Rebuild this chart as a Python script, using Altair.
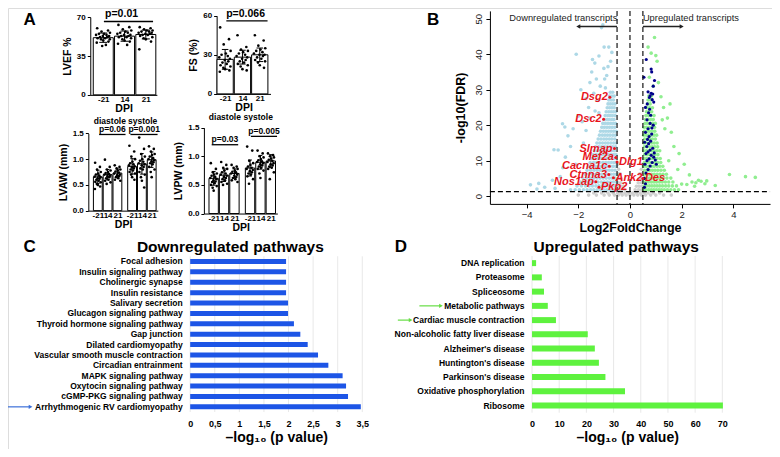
import altair as alt
import pandas as pd

FONT = "Liberation Sans"
PANEL_LETTERS = ["A", "B", "C", "D"]
W, H = 764, 441                    # drawing size that fits the window with its 8px margins
SX, SY = W / 780.0, H / 457.0      # reference-pixel -> drawing-pixel


def cx(x):
    return x * SX


def cy(y):
    return y * SY


# ---------------- Panel A data ----------------
DPI3 = ["-21", "14", "21"]
DPI6 = ["-21", "14", "21", "-21", "14", "21"]
POS3 = [0, 1, 2]
POS6 = [0, 1, 2, 3.5, 4.5, 5.5]
JIT = [-0.28, 0.22, -0.08, 0.31, 0.04, -0.2, 0.15, -0.33, 0.27, -0.02, 0.18,
       -0.15, 0.09, -0.26, 0.3, -0.1, 0.0, 0.24, -0.3, 0.12, -0.05]

LVEF_MEAN = [51.5, 52.9, 54.4]
LVEF_SD = [4.2, 4.6, 4.0]
LVEF_DOTS = [
    [60, 58, 57, 56, 55, 55, 54, 54, 53, 53, 52, 52, 51, 51, 50, 50, 49, 48, 47, 45, 44],
    [63, 61, 59, 58, 57, 56, 56, 55, 54, 54, 53, 53, 52, 52, 51, 50, 49, 48, 46, 45],
    [61, 60, 59, 58, 58, 57, 57, 56, 56, 55, 55, 54, 54, 53, 52, 51, 50, 48, 41],
]
FS_MEAN = [26.5, 28.2, 30.0]
FS_SD = [7.6, 5.3, 5.2]
FS_DOTS = [
    [51, 42, 38, 33, 31, 30, 29, 28, 27, 26, 25, 24, 23, 22, 21, 20, 19, 18, 17],
    [45, 36, 34, 33, 32, 31, 30, 29, 28, 27, 26, 25, 24, 23, 22, 21, 19, 18],
    [45, 41, 37, 35, 34, 33, 32, 31, 30, 30, 29, 28, 27, 26, 25, 24, 22, 20],
]
LVAW_MEAN = [0.656, 0.70, 0.73, 0.86, 0.91, 0.99]
LVAW_SD = [0.13, 0.10, 0.08, 0.15, 0.20, 0.15]
LVAW_DOTS = [
    [0.93, 0.85, 0.8, 0.75, 0.72, 0.7, 0.68, 0.66, 0.65, 0.63, 0.62, 0.6, 0.58, 0.56, 0.55, 0.52, 0.5, 0.47, 0.42],
    [0.99, 0.85, 0.8, 0.78, 0.75, 0.73, 0.71, 0.7, 0.68, 0.67, 0.65, 0.63, 0.6, 0.58, 0.55, 0.52],
    [0.88, 0.85, 0.82, 0.8, 0.78, 0.76, 0.74, 0.72, 0.7, 0.69, 0.67, 0.65, 0.63, 0.6, 0.58],
    [1.26, 1.15, 1.05, 1.0, 0.95, 0.92, 0.9, 0.88, 0.86, 0.84, 0.82, 0.8, 0.78, 0.75, 0.72, 0.7, 0.65, 0.6],
    [1.42, 1.2, 1.1, 1.05, 1.0, 0.97, 0.95, 0.92, 0.9, 0.88, 0.85, 0.82, 0.8, 0.75, 0.7, 0.65, 0.58, 0.45],
    [1.25, 1.2, 1.15, 1.1, 1.08, 1.05, 1.02, 1.0, 0.98, 0.96, 0.94, 0.92, 0.9, 0.85, 0.8, 0.75, 0.65],
]
LVPW_MEAN = [0.615, 0.67, 0.70, 0.795, 0.895, 0.918]
LVPW_SD = [0.12, 0.11, 0.08, 0.14, 0.12, 0.11]
LVPW_DOTS = [
    [0.88, 0.78, 0.72, 0.7, 0.68, 0.66, 0.64, 0.62, 0.6, 0.58, 0.56, 0.55, 0.53, 0.5, 0.48, 0.45, 0.4],
    [0.9, 0.85, 0.8, 0.78, 0.75, 0.72, 0.7, 0.68, 0.66, 0.64, 0.62, 0.6, 0.58, 0.55, 0.52, 0.5],
    [0.85, 0.82, 0.8, 0.78, 0.75, 0.73, 0.72, 0.7, 0.68, 0.66, 0.64, 0.62, 0.6, 0.58, 0.55],
    [1.17, 1.1, 0.92, 0.88, 0.85, 0.82, 0.8, 0.78, 0.76, 0.74, 0.72, 0.7, 0.68, 0.65, 0.6, 0.52],
    [1.1, 1.05, 1.0, 0.98, 0.95, 0.93, 0.91, 0.9, 0.88, 0.86, 0.84, 0.82, 0.8, 0.78, 0.75, 0.7, 0.62],
    [1.05, 1.02, 1.0, 0.98, 0.96, 0.94, 0.92, 0.9, 0.88, 0.86, 0.84, 0.82, 0.8, 0.78, 0.72, 0.6],
]

# ---------------- Panel B data ----------------
LB_ROWS = {
    1.8: [-2.3, -2.12, -1.96, -1.8, -1.66, -1.52, -1.4, -1.27, -1.14, -1.02, -0.9, -0.78, -0.66, -0.55],
    2.9: [-2.05, -1.88, -1.72, -1.58, -1.45, -1.32, -1.2, -1.07, -0.95, -0.83, -0.71, -0.6],
    4.0: [-1.92, -1.76, -1.62, -1.49, -1.36, -1.24, -1.11, -0.99, -0.87, -0.75, -0.64, -0.54],
    5.1: [-1.82, -1.67, -1.53, -1.4, -1.28, -1.16, -1.04, -0.92, -0.8, -0.69, -0.58],
    6.2: [-1.74, -1.59, -1.46, -1.33, -1.21, -1.09, -0.97, -0.86, -0.74, -0.63, -0.53],
    7.3: [-1.66, -1.52, -1.39, -1.27, -1.15, -1.03, -0.91, -0.8, -0.69, -0.58],
    8.4: [-1.6, -1.46, -1.34, -1.22, -1.1, -0.98, -0.87, -0.76, -0.65, -0.55],
    9.5: [-1.54, -1.41, -1.29, -1.17, -1.05, -0.94, -0.83, -0.72, -0.61, -0.52],
    10.6: [-1.48, -1.36, -1.24, -1.12, -1.01, -0.9, -0.79, -0.68, -0.57],
    11.7: [-1.43, -1.31, -1.19, -1.08, -0.97, -0.86, -0.75, -0.64, -0.54],
    12.8: [-1.38, -1.26, -1.15, -1.04, -0.93, -0.82, -0.71, -0.6],
    13.9: [-1.33, -1.21, -1.1, -0.99, -0.88, -0.77, -0.67, -0.56],
    15.0: [-1.28, -1.17, -1.06, -0.95, -0.85, -0.74, -0.63, -0.53],
    16.1: [-1.23, -1.12, -1.01, -0.91, -0.8, -0.7, -0.59],
    17.2: [-1.18, -1.07, -0.97, -0.87, -0.77, -0.66, -0.56],
    18.3: [-1.14, -1.03, -0.93, -0.83, -0.73, -0.63, -0.53],
    19.4: [-1.09, -0.99, -0.89, -0.79, -0.69, -0.59],
    20.5: [-1.05, -0.95, -0.85, -0.75, -0.65, -0.56],
    21.6: [-1.0, -0.9, -0.81, -0.71, -0.62],
    22.7: [-0.96, -0.86, -0.77, -0.68, -0.58],
    23.8: [-0.92, -0.82, -0.73, -0.64, -0.55],
    24.9: [-0.88, -0.79, -0.7, -0.61],
    26.0: [-0.85, -0.76, -0.67, -0.58],
    27.1: [-0.82, -0.73, -0.64],
    28.2: [-0.79, -0.7, -0.61],
    29.3: [-0.76, -0.67],
}
LB_OUT_X = [-1.1, -1.05, -1.0, -2.08, -1.45, -1.36, -1.2, -1.01, -0.85, -0.9, -1.3, -1.55, -1.15,
            -0.95, -1.4, -1.7, -1.25, -1.6, -0.98, -0.75, -0.7, -0.82, -1.48, -1.9, -2.61, -2.52,
            -2.2, -2.4, -2.0, -1.85, -2.94, -2.78, -2.5, -2.3, -3.85, -3.53, -3.3, -3.0, -2.7,
            -3.6, -2.9, -2.6, -2.1, -1.8, -1.7, -1.55, -1.35, -1.2]
LB_OUT_Y = [47.5, 48.3, 42, 40, 38.5, 37.5, 39.5, 36, 36.5, 34, 33, 32, 31, 30.5, 29, 27.5, 27,
            25, 33, 38, 40.5, 42, 35, 30, 20.4, 19.5, 19, 17, 22.5, 21, 13.1, 13, 11, 14, 3.2,
            3.6, 2.5, 4.5, 5.5, 2, 2.2, 8, 9, 15, 18.5, 22, 24, 23.5]
GR_ROWS = {
    1.8: [0.52, 0.62, 0.72, 0.82, 0.92, 1.02, 1.12, 1.22, 1.33, 1.45, 1.58, 1.72, 1.88],
    2.9: [0.55, 0.65, 0.75, 0.85, 0.95, 1.05, 1.15, 1.26, 1.38, 1.5, 1.64, 1.8],
    4.0: [0.53, 0.63, 0.73, 0.83, 0.93, 1.03, 1.14, 1.25, 1.37, 1.5, 1.66],
    5.1: [0.56, 0.66, 0.76, 0.86, 0.96, 1.07, 1.18, 1.3, 1.43, 1.58],
    6.2: [0.54, 0.64, 0.74, 0.84, 0.94, 1.05, 1.16, 1.28, 1.41],
    7.3: [0.57, 0.67, 0.77, 0.87, 0.97, 1.08, 1.2, 1.33],
    8.4: [0.53, 0.63, 0.73, 0.83, 0.93, 1.04, 1.15, 1.27],
    9.5: [0.56, 0.66, 0.76, 0.86, 0.96, 1.07, 1.19],
    10.6: [0.54, 0.64, 0.74, 0.84, 0.94, 1.05, 1.17],
    11.7: [0.57, 0.67, 0.77, 0.87, 0.97, 1.08],
    12.8: [0.53, 0.63, 0.73, 0.83, 0.93, 1.04, 1.15],
    13.9: [0.56, 0.66, 0.76, 0.86, 0.96, 1.07],
    15.0: [0.54, 0.64, 0.74, 0.84, 0.94, 1.05],
    16.1: [0.57, 0.67, 0.77, 0.87, 0.98],
    17.2: [0.53, 0.63, 0.73, 0.83, 0.93, 1.03],
    18.3: [0.56, 0.66, 0.76, 0.86, 0.96],
    19.4: [0.54, 0.64, 0.74, 0.84, 0.95],
    20.5: [0.58, 0.68, 0.78, 0.88, 0.98],
    21.6: [0.6, 0.7, 0.8, 0.9],
    22.7: [0.62, 0.72, 0.82, 0.93],
    23.8: [0.64, 0.74, 0.84],
    24.9: [0.66, 0.76, 0.87],
    26.0: [0.68, 0.78],
    27.1: [0.7, 0.8],
    28.2: [0.73, 0.83],
}
GR_OUT_X = [0.95, 0.82, 1.0, 1.05, 0.75, 1.1, 0.9, 1.2, 1.3, 1.45, 1.6, 1.7, 1.9, 2.1, 1.85, 2.3,
            2.0, 2.2, 2.4, 2.55, 2.65, 2.75, 2.9, 2.97, 2.5, 3.85, 4.47, 4.85, 3.3, 1.55, 0.7,
            1.35, 1.25, 1.5]
GR_OUT_Y = [44.7, 40.3, 39.6, 38, 33.5, 32, 31, 28, 25, 22, 18, 14, 12, 9, 7.5, 6, 3.4, 3.3,
            4, 3.8, 4.5, 4.2, 3.5, 4.3, 2.8, 6.1, 5.5, 5.3, 3, 26, 42, 19, 21.5, 10]
NAVY_X = [0.63, 0.82, 0.84, 0.54, 0.95, 0.9, 0.7, 0.82, 0.78, 0.88, 0.75, 0.86, 0.92, 0.6, 0.72,
          0.8, 0.66, 0.78, 0.9, 0.7, 0.6, 0.84, 0.74, 0.68, 0.8, 0.72, 0.65, 0.88, 0.78, 0.7,
          0.62, 0.82, 0.92, 0.74, 0.66, 0.86, 0.58, 0.78, 0.7, 0.62, 0.55, 0.6, 0.56, 0.94,
          0.98, 1.02, 0.76, 0.67, 0.85, 0.57]
NAVY_Y = [38.5, 35.8, 35, 33.5, 32.6, 31, 29.4, 29, 28.3, 28.8, 27.8, 27.2, 26.5, 25, 23.5,
          22.8, 21.5, 20.5, 20, 19, 18, 17.5, 16.8, 16, 15.5, 14.8, 14, 13.5, 13, 12.5, 12,
          11.5, 11, 10.5, 10, 9.5, 9, 8.5, 7.5, 6.5, 5, 3.5, 2.5, 12.2, 10.2, 9, 24.5, 26,
          19.2, 15.2]
GREY_ROWS = {
    0.3: [-2.0, -1.6, -1.3, -1.0, -0.8, -0.6, -0.45, -0.3, -0.15, 0.0, 0.15, 0.3, 0.45, 0.6, 0.8, 1.0, 1.3, 1.6],
    0.9: [-1.4, -1.1, -0.85, -0.65, -0.48, -0.35, -0.2, -0.05, 0.1, 0.25, 0.4, 0.55, 0.7, 0.9, 1.15],
    1.8: [-0.45, -0.33, -0.2, 0.2, 0.33, 0.45],
    2.8: [-0.47, -0.36, -0.25, 0.25, 0.36, 0.47],
    3.8: [-0.46, -0.35, 0.32, 0.44],
    5.0: [-0.45, -0.35, 0.35, 0.45],
    6.3: [-0.46, -0.38, 0.38, 0.46],
    7.6: [-0.44, 0.44],
    9.0: [-0.47, 0.47],
}
GENES = ["Dsg2", "Dsc2", "Slmap", "Mef2a", "Dlg1", "Cacna1c", "Ctnna3", "Ank2", "Des", "Nos1ap", "Pkp2"]
GENE_X = [-0.78, -1.02, -0.6, -0.55, -0.5, -0.8, -0.82, -0.64, 0.5, -1.32, -1.2]
GENE_Y = [27.9, 21.7, 13.4, 10.9, 9.6, 8.4, 6.1, 5.2, 5.0, 4.1, 2.5]
GENE_SIDE = ["r", "r", "r", "r", "l", "r", "r", "l", "l", "r", "l"]
V_LINES = [-0.5, 0.0, 0.5]
H_LINE = [1.3]
DIR_TEXT = ["Downregulated transcripts", "Upregulated transcripts"]

# ---------------- Panels C and D data ----------------
C_PATHS = ["Focal adhesion", "Insulin signaling pathway", "Cholinergic synapse", "Insulin resistance",
           "Salivary secretion", "Glucagon signaling pathway", "Thyroid hormone signaling pathway",
           "Gap junction", "Dilated cardiomyopathy", "Vascular smooth muscle contraction",
           "Circadian entrainment", "MAPK signaling pathway", "Oxytocin signaling pathway",
           "cGMP-PKG signaling pathway", "Arrhythmogenic RV cardiomyopathy"]
C_VALUES = [1.95, 1.95, 1.95, 1.95, 1.99, 1.99, 2.11, 2.24, 2.39, 2.6, 2.81, 3.1, 3.17, 3.21, 3.47]
C_TICKS = [0, 0.5, 1, 1.5, 2, 2.5, 3, 3.5]
D_PATHS = ["DNA replication", "Proteasome", "Spliceosome", "Metabolic pathways",
           "Cardiac muscle contraction", "Non-alcoholic fatty liver disease", "Alzheimer's disease",
           "Huntington's disease", "Parkinson's disease", "Oxidative phosphorylation", "Ribosome"]
D_VALUES = [1.5, 3.6, 4.4, 5.8, 8.8, 20.5, 23.1, 24.6, 27.0, 34.2, 70.2]
D_TICKS = [0, 10, 20, 30, 40, 50, 60, 70]
C_TITLE = "Downregulated pathways"
D_TITLE = "Upregulated pathways"
XTITLE_CD = "\u2013log\u2081\u2080 (p value)"


def text_layer(txt, rx, ry, size, weight="bold", align="center", color="black"):
    # rx, ry: position in reference pixels
    return alt.Chart(pd.DataFrame({"t": [txt]})).mark_text(
        font=FONT, fontSize=size, fontWeight=weight, align=align, baseline="middle", color=color
    ).encode(x=alt.value(cx(rx)), y=alt.value(cy(ry)), text="t:N")


def bar_panel(means, sds, dots, pos, ticklabels, ytitle, ydom, yvals, yfmt, box, xdom, half,
              notes, lines, extra=None):
    x0, x1, y0, y1 = cx(box[0]), cx(box[1]), cy(box[2]), cy(box[3])
    bdf = pd.DataFrame({"pos": pos, "mean": means, "sd": sds})
    bdf["x0"] = bdf["pos"] - half
    bdf["x1"] = bdf["pos"] + half
    bdf["base"] = 0.0
    bdf["lo"] = bdf["mean"] - bdf["sd"]
    bdf["hi"] = bdf["mean"] + bdf["sd"]
    bdf["c0"] = bdf["pos"] - half * 0.4
    bdf["c1"] = bdf["pos"] + half * 0.4
    rows = []
    for p, vals in zip(pos, dots):
        for i, v in enumerate(vals):
            rows.append({"pos": p + JIT[i % len(JIT)] * (half / 0.46), "val": v})
    ddf = pd.DataFrame(rows)
    xs = alt.Scale(domain=xdom, range=[x0, x1], nice=False, zero=False)
    ys = alt.Scale(domain=ydom, range=[y1, y0], nice=False, zero=False)
    expr = ("[" + ",".join("'%s'" % t for t in ticklabels) + "][indexof(["
            + ",".join(str(p) for p in pos) + "], datum.value)]")
    xax = alt.Axis(orient="bottom", offset=-(H - y1), values=pos, labelExpr=expr, title="DPI",
                   labelFont=FONT, labelFontSize=8, labelFontWeight="bold", titleFont=FONT,
                   titleFontSize=10.5, titleFontWeight="bold", ticks=False, domainColor="black",
                   labelColor="black", titleColor="black", labelPadding=1, titlePadding=0,
                   grid=False, labelOverlap=False, labelFlush=False)
    yax = alt.Axis(orient="left", offset=-x0, values=yvals, format=yfmt, title=ytitle,
                   labelFont=FONT, labelFontSize=8, labelFontWeight="bold", titleFont=FONT,
                   titleFontSize=10.5, titleFontWeight="bold", tickSize=3, tickColor="black",
                   domainColor="black", labelColor="black", titleColor="black", grid=False,
                   labelOverlap=False, labelFlush=False, labelPadding=2, titlePadding=4)
    X = lambda f: alt.X(f, scale=xs, axis=xax)
    Y = lambda f: alt.Y(f, scale=ys, axis=yax)
    bars = alt.Chart(bdf).mark_rect(fill="white", stroke="black", strokeWidth=1).encode(
        x=X("x0:Q"), x2="x1", y=Y("mean:Q"), y2="base")
    err = alt.Chart(bdf).mark_rule(color="black", strokeWidth=1).encode(x=X("pos:Q"), y=Y("lo:Q"), y2="hi")
    cap_hi = alt.Chart(bdf).mark_rule(color="black", strokeWidth=1).encode(x=X("c0:Q"), x2="c1", y=Y("hi:Q"))
    cap_lo = alt.Chart(bdf).mark_rule(color="black", strokeWidth=1).encode(x=X("c0:Q"), x2="c1", y=Y("lo:Q"))
    pts = alt.Chart(ddf).mark_circle(color="black", size=7, opacity=1).encode(x=X("pos:Q"), y=Y("val:Q"))
    ndf = pd.DataFrame(notes, columns=["t", "x", "y", "s"])
    ntext = alt.Chart(ndf).mark_text(font=FONT, fontWeight="bold", baseline="middle", color="black").encode(
        x=X("x:Q"), y=Y("y:Q"), text="t:N", size=alt.Size("s:Q", scale=None, legend=None))
    ldf = pd.DataFrame(lines, columns=["x0", "x1", "y"])
    lrule = alt.Chart(ldf).mark_rule(color="black", strokeWidth=1.3).encode(x=X("x0:Q"), x2="x1", y=Y("y:Q"))
    layers = [bars, err, cap_hi, cap_lo, pts, lrule, ntext]
    if extra is not None:
        layers.append(extra)
    return alt.layer(*layers)


lvef = bar_panel(LVEF_MEAN, LVEF_SD, LVEF_DOTS, POS3, DPI3, "LVEF %", [0, 70], [0, 35, 70], "d",
                 (84, 152, 9.5, 90), [-0.61, 2.52], 0.47,
                 [["p=0.01", 0.86, 73.0, 10.5]], [[0.03, 2.34, 66.1]],
                 text_layer(PANEL_LETTERS[0], 22, 12, 17))
fs = bar_panel(FS_MEAN, FS_SD, FS_DOTS, POS3, DPI3, "FS (%)", [0, 60], [0, 30, 60], "d",
               (213, 268, 8, 89), [-0.49, 2.62], 0.47,
               [["p=0.066", 1.18, 61.5, 10.5]], [[0.07, 2.45, 56.1]])
lvaw = bar_panel(LVAW_MEAN, LVAW_SD, LVAW_DOTS, POS6, DPI6, "LVAW (mm)", [0, 1.5],
                 [0, 0.5, 1.0, 1.5], ".1f", (82, 153, 130, 210), [-0.97, 6.13], 0.45,
                 [["diastole", 1.23, 1.744, 8.5], ["systole", 4.58, 1.744, 8.5],
                  ["p=0.06", 1.48, 1.594, 8.5], ["p=0.001", 4.73, 1.594, 8.5]],
                 [[0.13, 2.83, 1.48], [3.33, 6.1, 1.48]])
lvpw = bar_panel(LVPW_MEAN, LVPW_SD, LVPW_DOTS, POS6, DPI6, "LVPW (mm)", [0, 1.5],
                 [0, 0.5, 1.0, 1.5], ".1f", (200, 275, 124, 213), [-0.94, 6.13], 0.45,
                 [["diastole", 1.08, 1.685, 8.5], ["systole", 4.29, 1.685, 8.5],
                  ["p=0.03", 1.08, 1.298, 8.5], ["p=0.005", 4.84, 1.449, 8.5]],
                 [[-0.19, 2.36, 1.202], [3.58, 6.1, 1.348]])

# ---------------- Panel B ----------------
BX0, BX1, BY0, BY1 = cx(492), cx(778), cy(3), cy(203)
VX = alt.Scale(domain=[-5.42, 5.42], range=[BX0, BX1], nice=False, zero=False)
VY = alt.Scale(domain=[-2.17, 52.2], range=[BY1, BY0], nice=False, zero=False)
vxax = alt.Axis(orient="bottom", offset=-(H - BY1), values=[-4, -2, 0, 2, 4], title="Log2FoldChange",
                labelFont=FONT, labelFontSize=9.5, labelColor="#222222", titleFont=FONT,
                titleFontSize=12.5, titleFontWeight="bold", titleColor="black", tickColor="black",
                domainColor="black", tickSize=4, grid=False, labelPadding=2, titlePadding=2,
                labelFlush=False)
vyax = alt.Axis(orient="left", offset=-BX0, values=[0, 10, 20, 30, 40, 50], title="-log10(FDR)",
                labelFont=FONT, labelFontSize=9.5, labelColor="#222222", labelAngle=270,
                labelAlign="center", labelBaseline="bottom", titleFont=FONT, titleFontSize=12.5,
                titleFontWeight="bold", titleColor="black", tickColor="black", domainColor="black",
                tickSize=4, grid=False, labelPadding=2, titlePadding=6, labelFlush=False)
VXe = lambda f: alt.X(f, scale=VX, axis=vxax)
VYe = lambda f: alt.Y(f, scale=VY, axis=vyax)


def rows_to_xy(rows):
    xs, ys = [], []
    for y, xl in rows.items():
        for x in xl:
            xs.append(x)
            ys.append(y)
    return xs, ys


def pts_layer(xs, ys, color, size):
    return alt.Chart(pd.DataFrame({"x": xs, "y": ys})).mark_circle(
        color=color, size=size, opacity=1).encode(x=VXe("x:Q"), y=VYe("y:Q"))


gx, gy = rows_to_xy(GREY_ROWS)
lbx, lby = rows_to_xy(LB_ROWS)
grx, gry = rows_to_xy(GR_ROWS)
grey_l = pts_layer(gx, gy, "#cfcfcf", 13)
lb_l = pts_layer(lbx + LB_OUT_X, lby + LB_OUT_Y, "#add8e6", 13)
gr_l = pts_layer(grx + GR_OUT_X, gry + GR_OUT_Y, "#90ee90", 13)
navy_l = pts_layer(NAVY_X, NAVY_Y, "#00008b", 10)
vlines = alt.Chart(pd.DataFrame({"x": V_LINES})).mark_rule(
    color="black", strokeDash=[5, 3], strokeWidth=1.1).encode(
    x=VXe("x:Q"), y=alt.value(BY0), y2=alt.value(BY1))
hline = alt.Chart(pd.DataFrame({"y": H_LINE})).mark_rule(
    color="black", strokeDash=[5, 3], strokeWidth=1.1).encode(
    y=VYe("y:Q"), x=alt.value(BX0), x2=alt.value(BX1))
arr_df = pd.DataFrame({"x0": [-0.5, 0.5], "x1": [-1.95, 1.95], "y": [47.8, 47.8]})
arr_rule = alt.Chart(arr_df).mark_rule(color="#222222", strokeWidth=1.3).encode(
    x=VXe("x0:Q"), x2="x1", y=VYe("y:Q"))
head_l = alt.Chart(pd.DataFrame({"x": [-2.0], "y": [47.8]})).mark_point(
    shape="triangle-left", filled=True, color="#222222", size=22, opacity=1).encode(x=VXe("x:Q"), y=VYe("y:Q"))
head_r = alt.Chart(pd.DataFrame({"x": [2.0], "y": [47.8]})).mark_point(
    shape="triangle-right", filled=True, color="#222222", size=22, opacity=1).encode(x=VXe("x:Q"), y=VYe("y:Q"))
dir_df = pd.DataFrame({"t": DIR_TEXT, "x": [-2.58, 2.36], "y": [50.3, 50.3]})
dir_text = alt.Chart(dir_df).mark_text(font=FONT, fontSize=9.3, color="#222222", baseline="middle").encode(
    x=VXe("x:Q"), y=VYe("y:Q"), text="t:N")
gdf = pd.DataFrame({"g": GENES, "x": GENE_X, "y": GENE_Y, "side": GENE_SIDE})
gene_pts = alt.Chart(gdf).mark_circle(color="#e8141c", size=9, opacity=1).encode(x=VXe("x:Q"), y=VYe("y:Q"))
gene_r = alt.Chart(gdf[gdf.side == "r"]).mark_text(
    font=FONT, fontSize=11, fontWeight="bold", fontStyle="italic", color="#e8141c",
    align="right", baseline="middle", dx=-2).encode(x=VXe("x:Q"), y=VYe("y:Q"), text="g:N")
gene_l = alt.Chart(gdf[gdf.side == "l"]).mark_text(
    font=FONT, fontSize=11, fontWeight="bold", fontStyle="italic", color="#e8141c",
    align="left", baseline="middle", dx=2).encode(x=VXe("x:Q"), y=VYe("y:Q"), text="g:N")
volcano = alt.layer(
    grey_l, lb_l, gr_l, navy_l, vlines, hline, arr_rule, head_l, head_r, dir_text,
    gene_pts, gene_r, gene_l, text_layer(PANEL_LETTERS[1], 434, 12, 17))


# ---------------- Panels C and D ----------------
def path_panel(paths, values, ticks, xfmt, color, xdom, box, pad_in, title, tpos, letter, lpos,
               arrows, arrow_color):
    x0, x1, y0, y1 = cx(box[0]), cx(box[1]), cy(box[2]), cy(box[3])
    df = pd.DataFrame({"p": paths, "v": values})
    ysc = alt.Scale(domain=paths, range=[y0, y1], paddingInner=pad_in, paddingOuter=pad_in / 2)
    xsc = alt.Scale(domain=xdom, range=[x0, x1], nice=False, zero=True)
    yax = alt.Axis(orient="left", offset=-x0, title=None, ticks=False, domain=False, labelFont=FONT,
                   labelFontSize=8.5, labelFontWeight="bold", labelColor="black", labelPadding=8,
                   labelLimit=400, grid=False)
    xax = alt.Axis(orient="bottom", offset=-(H - y1), values=ticks, format=xfmt,
                   labelExpr="replace(datum.label, '.', ',')", title=XTITLE_CD, grid=False,
                   domain=False, ticks=False, labelFont=FONT, labelFontSize=9, labelFontWeight="bold",
                   labelColor="black", labelPadding=7, titleFont=FONT, titleFontSize=14,
                   titleFontWeight="bold", titleColor="black", titlePadding=2, labelFlush=False)
    Xe = lambda f: alt.X(f, scale=xsc, axis=xax)
    Ye = lambda f: alt.Y(f, scale=ysc, axis=yax, sort=paths)
    grid = alt.Chart(pd.DataFrame({"v": ticks})).mark_rule(color="#e2e2e2", strokeWidth=0.8).encode(
        x=Xe("v:Q"), y=alt.value(y0), y2=alt.value(y1))
    bars = alt.Chart(df).mark_bar(color=color).encode(x=Xe("v:Q"), y=Ye("p:N"))
    layers = [grid, bars]
    for (pname, a0, a1) in arrows:
        adf = pd.DataFrame({"p": [pname]})
        layers.append(alt.Chart(adf).mark_rule(color=arrow_color, strokeWidth=1.2).encode(
            x=alt.value(cx(a0)), x2=alt.value(cx(a1)), y=Ye("p:N")))
        layers.append(alt.Chart(adf).mark_point(shape="triangle-right", filled=True, color=arrow_color,
                                                size=18, opacity=1).encode(
            x=alt.value(cx(a1) + 1), y=Ye("p:N")))
    layers.append(text_layer(title, tpos[0], tpos[1], 15.5))
    layers.append(text_layer(letter, lpos[0], lpos[1], 17))
    return alt.layer(*layers)


cchart = path_panel(C_PATHS, C_VALUES, C_TICKS, "~g", "#1d55e6", [0, 3.5], (186, 361.7, 257.3, 418.7),
                    0.52, C_TITLE, (227, 248), PANEL_LETTERS[2], (22, 248),
                    [("Arrhythmogenic RV cardiomyopathy", 0, 22)], "#3b6fd9")
dchart = path_panel(D_PATHS, D_VALUES, D_TICKS, "d", "#5ef23e", [0, 70], (535, 729.3, 257, 419.4),
                    0.58, D_TITLE, (621, 248), PANEL_LETTERS[3], (401, 248),
                    [("Metabolic pathways", 420, 441), ("Cardiac muscle contraction", 398, 410)],
                    "#66dd44")

chart = alt.layer(lvef, fs, lvaw, lvpw, volcano, cchart, dchart).resolve_scale(
    x="independent", y="independent"
).properties(
    width=W, height=H, padding=0, background="white",
    autosize=alt.AutoSizeParams(type="none")
).configure_view(stroke=None).configure(font=FONT)

chart.save("out.html", embed_options={"renderer": "svg", "actions": False})
